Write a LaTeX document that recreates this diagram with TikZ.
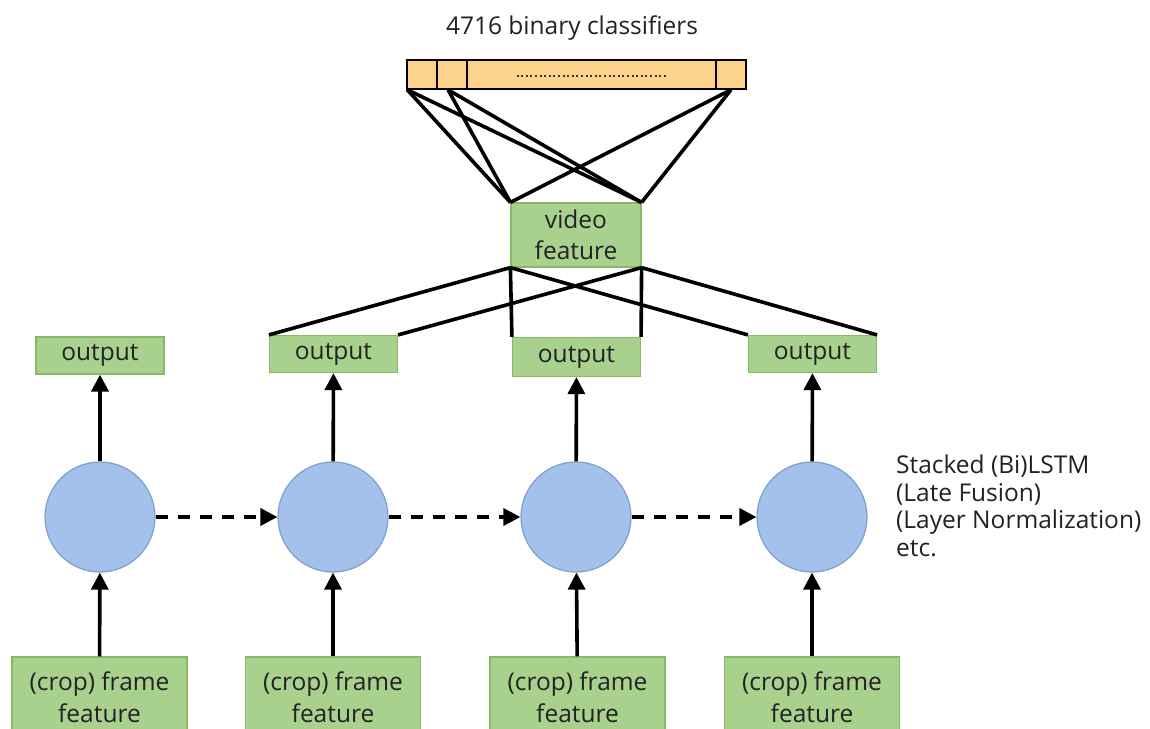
\documentclass[tikz,border=0pt]{standalone}
\usepackage{fontspec}
\setmainfont{Open Sans}
\usetikzlibrary{arrows.meta}
\definecolor{gfill}{HTML}{A9D18E}
\definecolor{gdraw}{HTML}{86BA69}
\definecolor{bfill}{HTML}{A3C1EA}
\definecolor{bdraw}{HTML}{7F9FCC}
\definecolor{ofill}{HTML}{FDD38C}
\definecolor{txt}{HTML}{222222}
\begin{document}
\begin{tikzpicture}[x=1pt,y=-1pt,
  gbox/.style={draw=gdraw, fill=gfill, line width=1.2pt, inner sep=0pt, align=center, text=txt},
  outbox/.style={gbox, minimum width=128pt, minimum height=37pt, font=\fontsize{24.5}{28}\selectfont},
  framebox/.style={gbox, minimum width=175pt, minimum height=80pt, font=\fontsize{24.5}{32}\selectfont},
  cell/.style={draw=black, fill=ofill, line width=1.5pt, inner sep=0pt, minimum height=29pt},
  lstm/.style={circle, draw=bdraw, fill=bfill, line width=1.2pt, minimum size=110pt, inner sep=0pt},
  conn/.style={line width=3.6pt, black},
  arr/.style={line width=3.6pt, black, -{Triangle[width=17pt,length=17pt]}},
  darr/.style={arr, dash pattern=on 12pt off 10pt},
  lbl/.style={text=txt, font=\fontsize{24.5}{27.5}\selectfont, inner sep=0pt}
]
\useasboundingbox (0,0) rectangle (1150,728);
\fill[white] (0,0) rectangle (1150,728);

% title
\node[lbl] (title) at (572,28) {4716 binary classifiers};

% classifier bar
\node[cell, minimum width=30pt] (cA) at (422,74.5) {};
\node[cell, minimum width=30pt] (cB) at (452,74.5) {};
\node[cell, minimum width=249pt] (cC) at (591.5,74.5) {};
\node[cell, minimum width=30pt] (cD) at (731,74.5) {};
\draw[line width=2pt, dash pattern=on 2pt off 2.6pt, black!80] ([xshift=-75pt,yshift=-1pt]cC.center) -- ([xshift=76pt,yshift=-1pt]cC.center);
\coordinate (pA) at ([xshift=1pt]cA.south west);
\coordinate (pB) at ([xshift=-4pt]cB.south);
\coordinate (pD) at (cD.south);

% video feature
\node[gbox, minimum width=130pt, minimum height=64pt, font=\fontsize{24.5}{31}\selectfont] (vf) at (576,235) {video\\feature};

\foreach \p in {pA,pB,pD}{
  \draw[conn] (\p) -- (vf.north west);
  \draw[conn] (\p) -- (vf.north east);
}

% outputs
\node[outbox] (o1) at (100,355.5) {output};
\node[outbox] (o2) at (333.5,354) {output};
\node[outbox, minimum height=39pt] (o3) at (576.5,357) {output};
\node[outbox] (o4) at (812.5,354) {output};

\draw[conn] (vf.south west) -- (o2.north west);
\draw[conn] (vf.south east) -- (o2.north east);
\draw[conn] (vf.south west) -- (o3.north west);
\draw[conn] (vf.south east) -- (o3.north east);
\draw[conn] (vf.south west) -- (o4.north west);
\draw[conn] (vf.south east) -- (o4.north east);

% LSTM cells
\node[lstm] (l1) at (100,517) {};
\node[lstm] (l2) at (333,517) {};
\node[lstm] (l3) at (576,517) {};
\node[lstm] (l4) at (812,517) {};

% frame features
\node[framebox] (f1) at (99.5,697) {(crop) frame\\feature};
\node[framebox] (f2) at (333,697) {(crop) frame\\feature};
\node[framebox] (f3) at (577.5,697) {(crop) frame\\feature};
\node[framebox] (f4) at (812,697) {(crop) frame\\feature};

\foreach \i in {1,2,3,4}{
  \draw[arr] (l\i) -- (o\i);
  \draw[arr] (f\i) -- (l\i);
}
\draw[darr] (l1) -- (l2);
\draw[darr] (l2) -- (l3);
\draw[darr] (l3) -- (l4);

% side note
\node[lbl, anchor=north west, align=left] (note) at (896,455) {Stacked (Bi)LSTM\\(Late Fusion)\\(Layer Normalization)\\etc.};
\end{tikzpicture}
\end{document}
